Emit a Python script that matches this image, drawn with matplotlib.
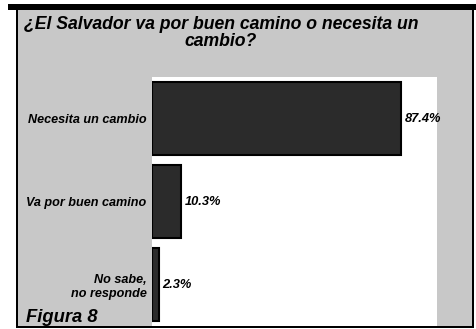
import matplotlib.pyplot as plt
from matplotlib.patches import Rectangle

categories = ['Necesita un cambio', 'Va por buen camino', 'No sabe,\nno responde']
values = [87.4, 10.3, 2.3]
value_labels = ['87.4%', '10.3%', '2.3%']
title = '¿El Salvador va por buen camino o necesita un\ncambio?'

plt.rcParams['font.family'] = ['Liberation Sans', 'DejaVu Sans']

W, H = 476, 329
fig = plt.figure(figsize=(W / 100, H / 100), dpi=100)
fig.patch.set_facecolor('white')


def px_rect(x0, y0, x1, y1, color):
    # rectangle in pixel coords (top-left origin)
    fig.patches.append(Rectangle((x0 / W, 1 - y1 / H), (x1 - x0) / W, (y1 - y0) / H,
                                 transform=fig.transFigure, color=color, lw=0, zorder=0))


# grey panel with black frame
px_rect(18, 10, 472, 326, '#c8c8c8')
px_rect(8, 4, 476, 10, 'black')
px_rect(16, 10, 18, 328, 'black')
px_rect(16, 326, 474, 328, 'black')
px_rect(472, 4, 474, 328, 'black')

ax = fig.add_axes([152 / W, 1 - 326 / H, 285 / W, 249 / H])
ax.set_zorder(2)
ax.set_facecolor('white')
y = list(range(len(categories)))
ax.barh(y, values, height=0.87, color='#2b2b2b', edgecolor='black', linewidth=1.5)
ax.set_xlim(0, 100)
ax.set_ylim(2.5, -0.5)
for yi, v, lab in zip(y, values, value_labels):
    ax.text(v + 1.3, yi, lab, va='center', ha='left', fontsize=9.3,
            fontweight='bold', fontstyle='italic')
ax.set_yticks(y)
ax.set_yticklabels(categories, fontsize=9.1, fontweight='bold', fontstyle='italic',
                   ha='right', linespacing=1.2)
ax.tick_params(axis='y', length=0, pad=4)
ax.set_xticks([])
for s in ax.spines.values():
    s.set_visible(False)

fig.text(221 / W, 1 - 33 / H, title, ha='center', va='center', fontsize=12.7,
         fontweight='bold', fontstyle='italic', linespacing=1.05, zorder=3)
fig.text(26 / W, 1 - 318 / H, 'Figura 8', ha='left', va='center', fontsize=13.2,
         fontweight='bold', fontstyle='italic', zorder=3)

fig.savefig('out.png', dpi=100)
